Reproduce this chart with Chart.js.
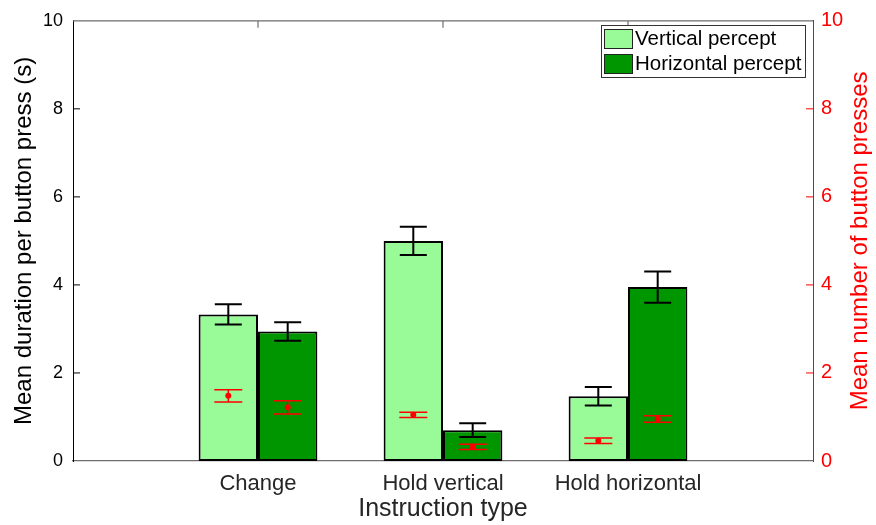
<!DOCTYPE html>
<html>
<head>
<meta charset="utf-8">
<script src="https://cdn.jsdelivr.net/npm/chart.js@4.4.1/dist/chart.umd.min.js"></script>
<style>
  html, body { margin: 0; padding: 0; background: #fff; }
</style>
</head>
<body>
<canvas id="barchart" width="876" height="525"></canvas>
<script>
// data
const categories = ['Change', 'Hold vertical', 'Hold horizontal'];
const seriesNames = ['Vertical percept', 'Horizontal percept'];
const durationVertical = [3.33, 5.00, 1.47];
const durationVerticalErr = [0.23, 0.32, 0.21];
const durationHorizontal = [2.94, 0.70, 3.95];
const durationHorizontalErr = [0.21, 0.155, 0.355];
const pressesVertical = [1.48, 1.05, 0.46];
const pressesVerticalErr = [0.14, 0.06, 0.065];
const pressesHorizontal = [1.22, 0.32, 0.955];
const pressesHorizontalErr = [0.15, 0.06, 0.075];
const yTicks = [0, 2, 4, 6, 8, 10];

const FONT = "'Liberation Sans', Arial, Helvetica, sans-serif";
const lightGreen = '#98fb98';
const darkGreen = '#009600';

// empty slot at each end so the categories sit at 1, 2, 3 on a 0..4 axis
const pad = arr => [null, ...arr, null];

// error bars (black on left axis, red on right axis) + red mean dots
const errorBars = {
    id: 'errorBars',
    afterDatasetsDraw(chart) {
        const ctx = chart.ctx;
        const y = chart.scales.y;
        const y2 = chart.scales.y2;
        const groups = [
            [durationVertical, durationVerticalErr, pressesVertical, pressesVerticalErr],
            [durationHorizontal, durationHorizontalErr, pressesHorizontal, pressesHorizontalErr]
        ];
        const bar = (x, lo, hi, color, lw, half) => {
            ctx.strokeStyle = color;
            ctx.lineWidth = lw;
            ctx.beginPath();
            ctx.moveTo(x, lo); ctx.lineTo(x, hi);
            ctx.moveTo(x - half, lo); ctx.lineTo(x + half, lo);
            ctx.moveTo(x - half, hi); ctx.lineTo(x + half, hi);
            ctx.stroke();
        };
        ctx.save();
        groups.forEach((g, di) => {
            const meta = chart.getDatasetMeta(di);
            g[0].forEach((v, i) => {
                const x = meta.data[i + 1].x;
                bar(x, y.getPixelForValue(v - g[1][i]), y.getPixelForValue(v + g[1][i]), '#000', 2, 13.5);
                const p = g[2][i];
                bar(x, y2.getPixelForValue(p - g[3][i]), y2.getPixelForValue(p + g[3][i]), '#ff0000', 1.5, 14);
                ctx.fillStyle = '#ff0000';
                ctx.beginPath();
                ctx.arc(x, y2.getPixelForValue(p), 3, 0, Math.PI * 2);
                ctx.fill();
            });
        });
        ctx.restore();
    }
};

// matlab style box: top line, inward ticks, right label, legend
const matlabBox = {
    id: 'matlabBox',
    afterDraw(chart) {
        const ctx = chart.ctx;
        const a = chart.chartArea;
        const x = chart.scales.x;
        const y = chart.scales.y;
        ctx.save();
        ctx.lineWidth = 1.2;
        ctx.strokeStyle = '#6e6e6e';
        ctx.beginPath();
        ctx.moveTo(a.left, a.top); ctx.lineTo(a.right, a.top);
        categories.forEach((c, i) => {
            const px = x.getPixelForValue(i + 1);
            ctx.moveTo(px, a.top); ctx.lineTo(px, a.top + 7);
        });
        ctx.stroke();

        ctx.strokeStyle = '#000';
        ctx.lineWidth = 1;
        ctx.beginPath();
        yTicks.slice(1, -1).forEach(t => {
            const py = y.getPixelForValue(t);
            ctx.moveTo(a.left, py); ctx.lineTo(a.left + 7, py);
        });
        ctx.stroke();
        ctx.strokeStyle = '#ff0000';
        ctx.beginPath();
        yTicks.slice(1, -1).forEach(t => {
            const py = chart.scales.y2.getPixelForValue(t);
            ctx.moveTo(a.right, py); ctx.lineTo(a.right - 7, py);
        });
        ctx.stroke();

        // right axis title reads bottom to top like the left one
        ctx.fillStyle = '#ff0000';
        ctx.font = '24px ' + FONT;
        ctx.textAlign = 'center';
        ctx.textBaseline = 'middle';
        ctx.translate(860, (a.top + a.bottom) / 2);
        ctx.rotate(-Math.PI / 2);
        ctx.fillText('Mean number of button presses', 0, 0);
        ctx.restore();

        // legend
        ctx.save();
        ctx.fillStyle = '#fff';
        ctx.fillRect(601, 25, 204, 52);
        ctx.strokeStyle = '#333';
        ctx.lineWidth = 1;
        ctx.strokeRect(601.5, 25.5, 204, 52);
        [lightGreen, darkGreen].forEach((col, i) => {
            const top = 29 + i * 25;
            ctx.fillStyle = col;
            ctx.fillRect(604, top, 28, 19);
            ctx.strokeStyle = '#222';
            ctx.strokeRect(604.5, top + 0.5, 28, 19);
            ctx.fillStyle = '#000';
            ctx.font = '20.5px ' + FONT;
            ctx.textAlign = 'left';
            ctx.textBaseline = 'middle';
            ctx.fillText(seriesNames[i], 635, top + 10);
        });
        ctx.restore();
    }
};

const barCtx = document.getElementById('barchart');

new Chart(barCtx, {
    type: 'bar',
    data: {
        labels: pad(categories).map(c => c || ''),
        datasets: [{
            label: seriesNames[0],
            data: pad(durationVertical),
            backgroundColor: lightGreen,
            borderColor: '#000',
            borderWidth: 2,
            borderSkipped: false
        }, {
            label: seriesNames[1],
            data: pad(durationHorizontal),
            backgroundColor: darkGreen,
            borderColor: '#000',
            borderWidth: 2,
            borderSkipped: false
        }]
    },
    options: {
        responsive: false,
        animation: false,
        layout: { padding: { top: 18, left: 0, right: 0, bottom: 0 } },
        datasets: { bar: { barPercentage: 1, categoryPercentage: 0.642 } },
        plugins: {
            legend: { display: false },
            tooltip: { enabled: false }
        },
        scales: {
            x: {
                offset: false,
                grid: { display: false, drawTicks: false },
                border: { color: '#6e6e6e', width: 1.2 },
                ticks: {
                    autoSkip: false, maxRotation: 0, padding: 10,
                    color: '#262626', font: { family: FONT, size: 22 }
                },
                title: {
                    display: true, text: 'Instruction type', color: '#262626',
                    font: { family: FONT, size: 25 }, padding: { top: 0, bottom: 1 }
                },
                afterFit: s => { s.height = 64; }
            },
            y: {
                position: 'left',
                min: 0, max: 10,
                grid: { display: false, drawTicks: false },
                border: { color: '#000', width: 1 },
                ticks: {
                    stepSize: 2, padding: 10,
                    color: '#000', font: { family: FONT, size: 18 }
                },
                title: {
                    display: true, text: 'Mean duration per button press (s)', color: '#000',
                    font: { family: FONT, size: 24 }, padding: { top: 10, bottom: 0 }
                },
                afterFit: s => { s.width = 73; }
            },
            y2: {
                position: 'right',
                min: 0, max: 10,
                grid: { display: false, drawTicks: false },
                border: { color: '#ff0000', width: 1 },
                ticks: {
                    stepSize: 2, padding: 8,
                    color: '#ff0000', font: { family: FONT, size: 20 }
                },
                afterFit: s => { s.width = 63; }
            }
        }
    },
    plugins: [errorBars, matlabBox]
});
</script>
</body>
</html>
